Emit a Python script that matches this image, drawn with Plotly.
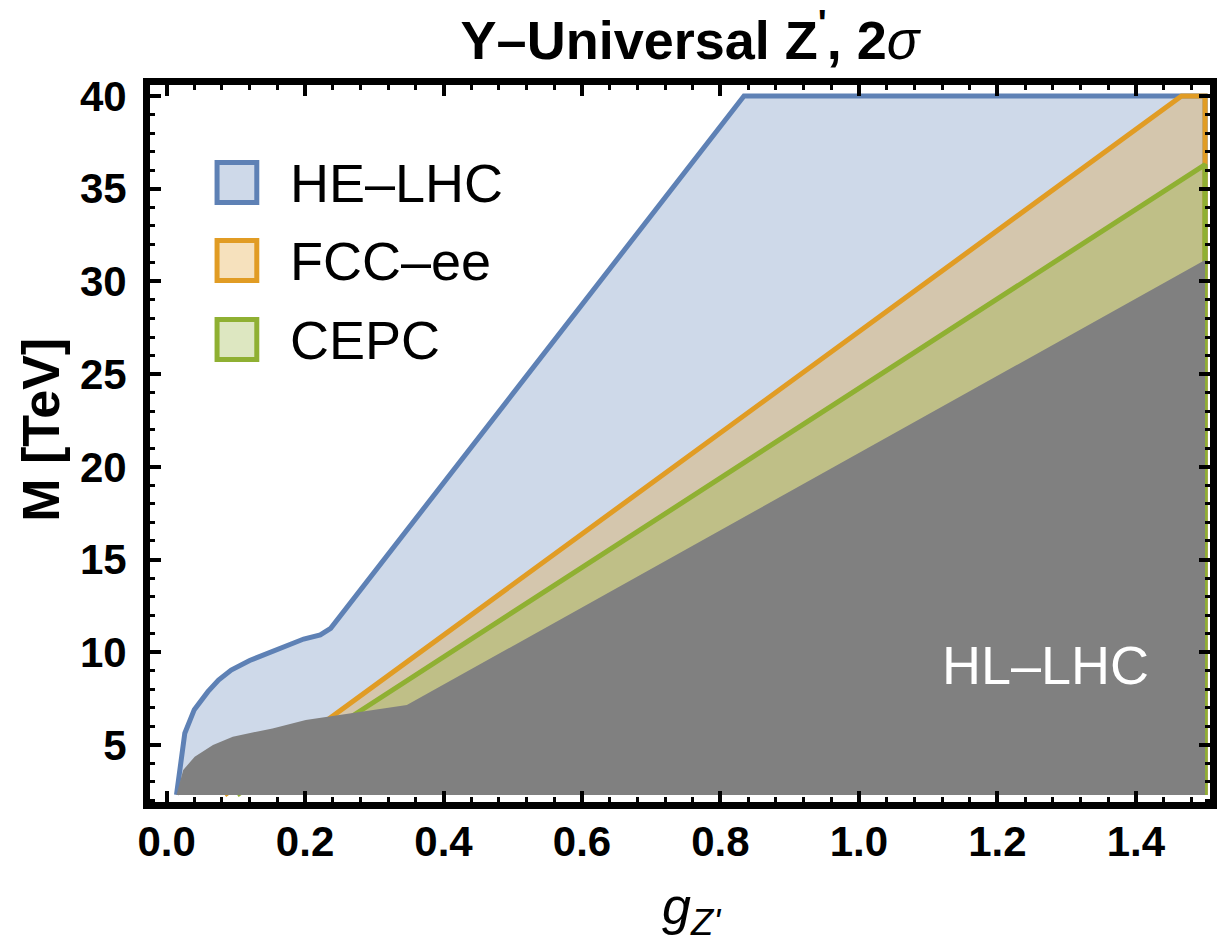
import plotly.graph_objects as go

# ---------------- data ----------------
he_lhc_g = [0.0143, 0.0263, 0.040, 0.0597, 0.075, 0.0933, 0.12, 0.153, 0.198, 0.222, 0.237, 0.834, 1.5, 1.5]
he_lhc_M = [2.3, 5.63, 6.9, 7.87, 8.5, 9.04, 9.55, 10.03, 10.71, 10.93, 11.29, 40.0, 40.0, 2.3]

fcc_g = [0.084, 1.466, 1.5, 1.5]
fcc_M = [2.3, 40.0, 40.0, 2.3]

cepc_g = [0.102, 0.27, 1.5, 1.5]
cepc_M = [2.3, 6.6, 36.3, 2.3]

hl_lhc_g = [0.0143, 0.024, 0.0406, 0.067, 0.0956, 0.153, 0.201, 0.234, 0.347, 1.5, 1.5]
hl_lhc_M = [2.3, 3.65, 4.36, 5.0, 5.44, 5.89, 6.34, 6.52, 7.15, 31.15, 2.3]

x_ticks = [0.0, 0.2, 0.4, 0.6, 0.8, 1.0, 1.2, 1.4]
x_tick_labels = ["0.0", "0.2", "0.4", "0.6", "0.8", "1.0", "1.2", "1.4"]
y_ticks = [5, 10, 15, 20, 25, 30, 35, 40]
y_tick_labels = ["5", "10", "15", "20", "25", "30", "35", "40"]

legend_names = ["HE–LHC", "FCC–ee", "CEPC"]

# ---------------- style ----------------
BLUE = "#5E81B5"
ORANGE = "#E19C24"
GREEN = "#8FB032"
BLUE_F = "rgba(94,129,181,0.3)"
ORANGE_F = "rgba(225,156,36,0.3)"
GREEN_F = "rgba(143,176,50,0.3)"
GRAY = "#808080"
FONT = "Liberation Sans, Arial, sans-serif"

W, H = 1228, 942
L, R, T, B = 150, 1217, 85, 802  # inner plot area in pixels


def px_x(p):
    return (p - L) / (R - L)


def px_y(p):
    return (B - p) / (B - T)


fig = go.Figure()
fig.add_trace(go.Scatter(x=he_lhc_g, y=he_lhc_M, mode="lines", fill="toself",
                         fillcolor=BLUE_F, line=dict(color=BLUE, width=5),
                         name=legend_names[0], showlegend=False, hoverinfo="skip"))
fig.add_trace(go.Scatter(x=fcc_g, y=fcc_M, mode="lines", fill="toself",
                         fillcolor=ORANGE_F, line=dict(color=ORANGE, width=5),
                         name=legend_names[1], showlegend=False, hoverinfo="skip"))
fig.add_trace(go.Scatter(x=cepc_g, y=cepc_M, mode="lines", fill="toself",
                         fillcolor=GREEN_F, line=dict(color=GREEN, width=5),
                         name=legend_names[2], showlegend=False, hoverinfo="skip"))
fig.add_trace(go.Scatter(x=hl_lhc_g, y=hl_lhc_M, mode="lines", fill="toself",
                         fillcolor=GRAY, line=dict(color=GRAY, width=0),
                         name="HL–LHC", showlegend=False, hoverinfo="skip"))

axis_common = dict(
    showline=True, linewidth=7, linecolor="black", mirror="ticks",
    ticks="inside", ticklen=11, tickwidth=4, tickcolor="black",
    showgrid=False, zeroline=False,
    tickfont=dict(family=FONT, size=42, color="black", weight="bold"),
)

fig.update_xaxes(
    range=[-0.02396, 1.5071], tickmode="array", tickvals=x_ticks, ticktext=x_tick_labels,
    ticklabelstandoff=-3,
    minor=dict(ticks="inside", ticklen=5, tickwidth=3, tickcolor="black", dtick=0.04, tick0=0, showgrid=False),
    **axis_common,
)
fig.update_yaxes(
    range=[1.92, 40.593], tickmode="array", tickvals=y_ticks, ticktext=y_tick_labels,
    ticklabelstandoff=8,
    minor=dict(ticks="inside", ticklen=5, tickwidth=3, tickcolor="black", dtick=1, tick0=0, showgrid=False),
    **axis_common,
)

# legend drawn as boxes + labels
legend_cy = [182.5, 260.5, 339.5]
legend_line = [BLUE, ORANGE, GREEN]
legend_fill = [BLUE_F, ORANGE_F, GREEN_F]
shapes = []
annotations = []
for name, cy, lc, fc in zip(legend_names, legend_cy, legend_line, legend_fill):
    shapes.append(dict(type="rect", xref="paper", yref="paper",
                       x0=px_x(217.5), x1=px_x(257.5), y0=px_y(cy + 20), y1=px_y(cy - 20),
                       line=dict(color=lc, width=5), fillcolor=fc, layer="above"))
    annotations.append(dict(text=name, xref="paper", yref="paper",
                            x=px_x(289), y=px_y(cy), xanchor="left", yanchor="middle",
                            showarrow=False, font=dict(family=FONT, size=54, color="black")))

annotations.append(dict(text="HL–LHC", xref="x", yref="y", x=1.269, y=9.31,
                        xanchor="center", yanchor="middle", showarrow=False,
                        font=dict(family=FONT, size=54, color="white")))
annotations.append(dict(text="<b>M [TeV]</b>", xref="paper", yref="paper",
                        x=px_x(40), y=px_y(430), xanchor="center", yanchor="middle",
                        textangle=-90, showarrow=False,
                        font=dict(family=FONT, size=52, color="black")))
annotations.append(dict(text="<i>g</i><sub><i>Z'</i></sub>", xref="paper", yref="paper",
                        x=px_x(695), y=px_y(910), xanchor="center", yanchor="middle",
                        showarrow=False, font=dict(family=FONT, size=52, color="black")))

fig.update_layout(
    width=W, height=H,
    margin=dict(l=L, r=W - R, t=T, b=H - B, pad=0),
    paper_bgcolor="white", plot_bgcolor="white",
    title=dict(text="<b>Y–Universal Z<sup>'</sup>, 2</b><i>σ</i>", xref="container", yref="container",
               x=690 / W, y=1 - 40 / H, xanchor="center", yanchor="middle",
               font=dict(family=FONT, size=54, color="black")),
    shapes=shapes, annotations=annotations, showlegend=False,
)

fig.write_html("out.html")
